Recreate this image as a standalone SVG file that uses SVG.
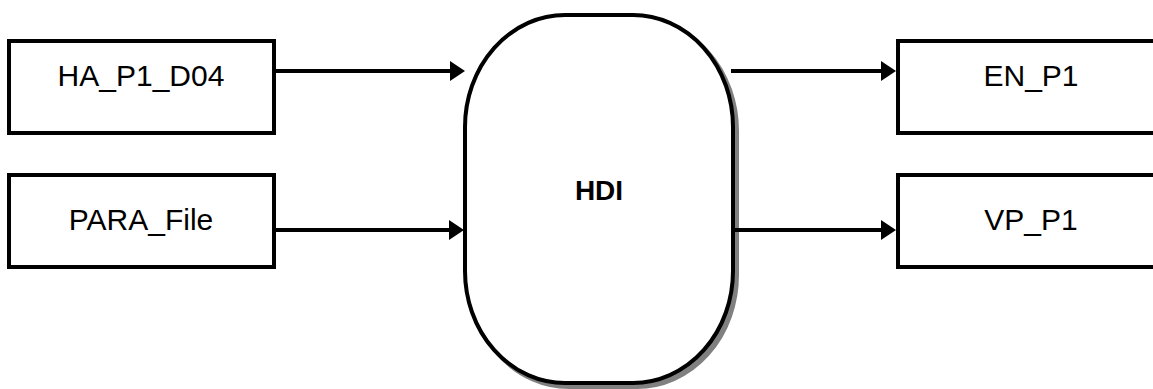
<svg xmlns="http://www.w3.org/2000/svg" width="1153" height="389" viewBox="0 0 1153 389">
  <style>
    .box { fill: #ffffff; stroke: #000000; stroke-width: 4; }
    .lbl { font-family: "Liberation Sans", Arial, sans-serif; font-size: 30px; fill: #000000; text-anchor: middle; }
    .bold { font-weight: bold; font-size: 28px; }
    .conn { stroke: #000000; stroke-width: 4; fill: none; marker-end: url(#arrow); }
  </style>
  <defs>
    <marker id="arrow" markerUnits="userSpaceOnUse" markerWidth="15" markerHeight="20" refX="5" refY="10" orient="auto">
      <path d="M0,0 L15,10 L0,20 Z" fill="#000000"/>
    </marker>
  </defs>
  <rect width="1153" height="389" fill="#ffffff"/>

  <g id="node-ha">
    <rect class="box" x="9" y="41" width="265" height="92"/>
    <text class="lbl" x="141" y="86">HA_P1_D04</text>
  </g>
  <g id="node-para">
    <rect class="box" x="9" y="175" width="265" height="92"/>
    <text class="lbl" x="141" y="230">PARA_File</text>
  </g>
  <g id="node-hdi">
    <rect x="469" y="19" width="268" height="368" rx="100" ry="112" fill="#808080" stroke="#808080" stroke-width="4"/>
    <rect class="box" x="465" y="15" width="268" height="368" rx="100" ry="112"/>
    <text class="lbl bold" x="599" y="200">HDI</text>
  </g>
  <g id="node-en">
    <rect class="box" x="898" y="41" width="268" height="92"/>
    <text class="lbl" x="1031" y="86">EN_P1</text>
  </g>
  <g id="node-vp">
    <rect class="box" x="898" y="175" width="268" height="92"/>
    <text class="lbl" x="1031" y="230">VP_P1</text>
  </g>

  <g id="connectors">
    <line class="conn" x1="276" y1="71" x2="455" y2="71"/>
    <line class="conn" x1="276" y1="230" x2="454" y2="230"/>
    <line class="conn" x1="731" y1="71" x2="886" y2="71"/>
    <line class="conn" x1="733" y1="230" x2="886" y2="230"/>
  </g>
</svg>
